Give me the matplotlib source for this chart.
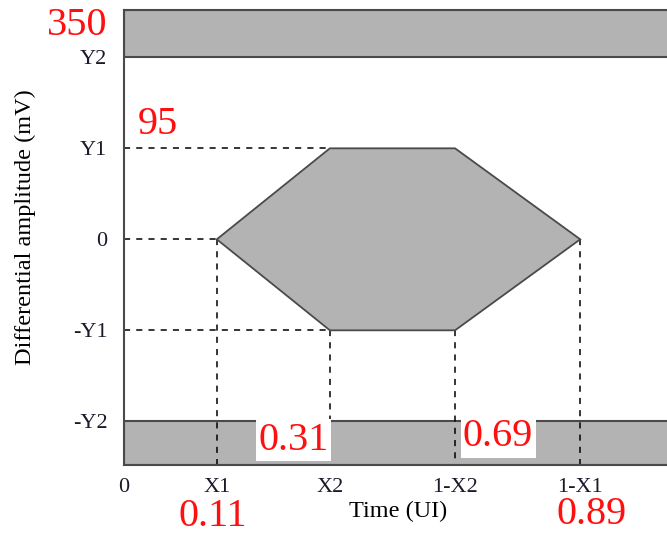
import numpy as np
import matplotlib
matplotlib.use('Agg')
from matplotlib import pyplot as plt

plt.rcParams['font.family'] = ['Liberation Serif', 'DejaVu Serif']

# mask values (UI, mV)
x_vals = [0.0, 0.11, 0.31, 0.69, 0.89, 1.0]
x_names = ['0', 'X1', 'X2', '1-X2', '1-X1', '1']
y_vals = [-350, -95, 0, 95, 350]
y_names = ['-Y2', '-Y1', '0', 'Y1', 'Y2']
X1, X2 = 0.11, 0.31
Y1, Y2 = 95, 350

# schematic (not to scale) positions of the mask knots
x_pos = [0.0, 0.169, 0.375, 0.603, 0.831, 1.0]
y_pos = [-2.0, -1.0, 0.0, 1.0, 2.0]


def pw(v, xp, fp):
    # piecewise linear map, extended linearly past the ends
    v = np.asarray(v, dtype=float)
    out = np.interp(v, xp, fp)
    lo = fp[0] + (v - xp[0]) * (fp[1] - fp[0]) / (xp[1] - xp[0])
    hi = fp[-1] + (v - xp[-1]) * (fp[-1] - fp[-2]) / (xp[-1] - xp[-2])
    out = np.where(v < xp[0], lo, out)
    out = np.where(v > xp[-1], hi, out)
    return out


fig = plt.figure(figsize=(6.67, 5.36), dpi=100)
ax = fig.add_axes([124/667, 71/536, 549/667, 455/536])
ax.set_xscale('function', functions=(lambda v: pw(v, x_vals, x_pos),
                                     lambda v: pw(v, x_pos, x_vals)))
ax.set_yscale('function', functions=(lambda v: pw(v, y_vals, y_pos),
                                     lambda v: pw(v, y_pos, y_vals)))
y_top = float(pw(2.52, y_pos, y_vals))
y_bot = float(pw(-2.48, y_pos, y_vals))
ax.set_xlim(0, 1)
ax.set_ylim(y_bot, y_top)

edge = '#4a4a4a'
gray = '#b3b3b3'

# forbidden zones above Y2 and below -Y2
ax.axhspan(Y2, y_top, facecolor=gray, edgecolor=edge, lw=1.5, zorder=1)
ax.axhspan(y_bot, -Y2, facecolor=gray, edgecolor=edge, lw=1.5, zorder=1)

# dashed guides
dash = dict(colors='black', linestyles=(0, (4, 4)), lw=1.1, zorder=2)
ax.hlines([Y1, 0, -Y1], 0, [X2, X1, X2], **dash)
ax.vlines([X1, X2, 1 - X2, 1 - X1], [0, -Y1, -Y1, 0], y_bot, **dash)

# eye mask hexagon
hx = [X1, X2, 1 - X2, 1 - X1, 1 - X2, X2]
hy = [0, Y1, Y1, 0, -Y1, -Y1]
ax.fill(hx, hy, facecolor=gray, edgecolor=edge, lw=1.3, zorder=3)

ax.set_xticks(x_vals[:-1])
ax.set_xticklabels(x_names[:-1])
ax.set_yticks(y_vals)
ax.set_yticklabels(y_names)
ax.tick_params(axis='both', length=0, labelsize=16, colors='#1a1a2a')
ax.tick_params(axis='x', pad=9)
ax.tick_params(axis='y', pad=12)
for s in ['left', 'top', 'bottom']:
    ax.spines[s].set_color(edge)
    ax.spines[s].set_linewidth(1.5)
ax.spines['right'].set_visible(False)

ax.set_xlabel('Time (UI)', fontsize=17.5, va='center')
ax.xaxis.set_label_coords(0.5, -0.101)
ax.set_ylabel('Differential amplitude (mV)', fontsize=17.5, va='center', ha='center')
ax.yaxis.set_label_coords(-0.180, 0.523)

# red value notes
red = dict(color='#ff1010', fontsize=29, ha='center', va='center',
           textcoords='offset pixels', annotation_clip=False, zorder=6)
box = dict(boxstyle='square,pad=0.06', facecolor='white', edgecolor='none')
ax.annotate(str(Y2), xy=(0, Y2), xytext=(-47, 32), **red)
ax.annotate(str(Y1), xy=(0, Y1), xytext=(34, 24), **red)
ax.annotate('%.2f' % X1, xy=(X1, y_bot), xytext=(-4, -52), **red)
ax.annotate('%.2f' % X2, xy=(X2, y_bot), xytext=(-36, 25), bbox=box, **red)
ax.annotate('%.2f' % (1 - X2), xy=(1 - X2, y_bot), xytext=(43, 28), bbox=box, **red)
ax.annotate('%.2f' % (1 - X1), xy=(1 - X1, y_bot), xytext=(11, -49), **red)

fig.savefig('out.png', dpi=100)
